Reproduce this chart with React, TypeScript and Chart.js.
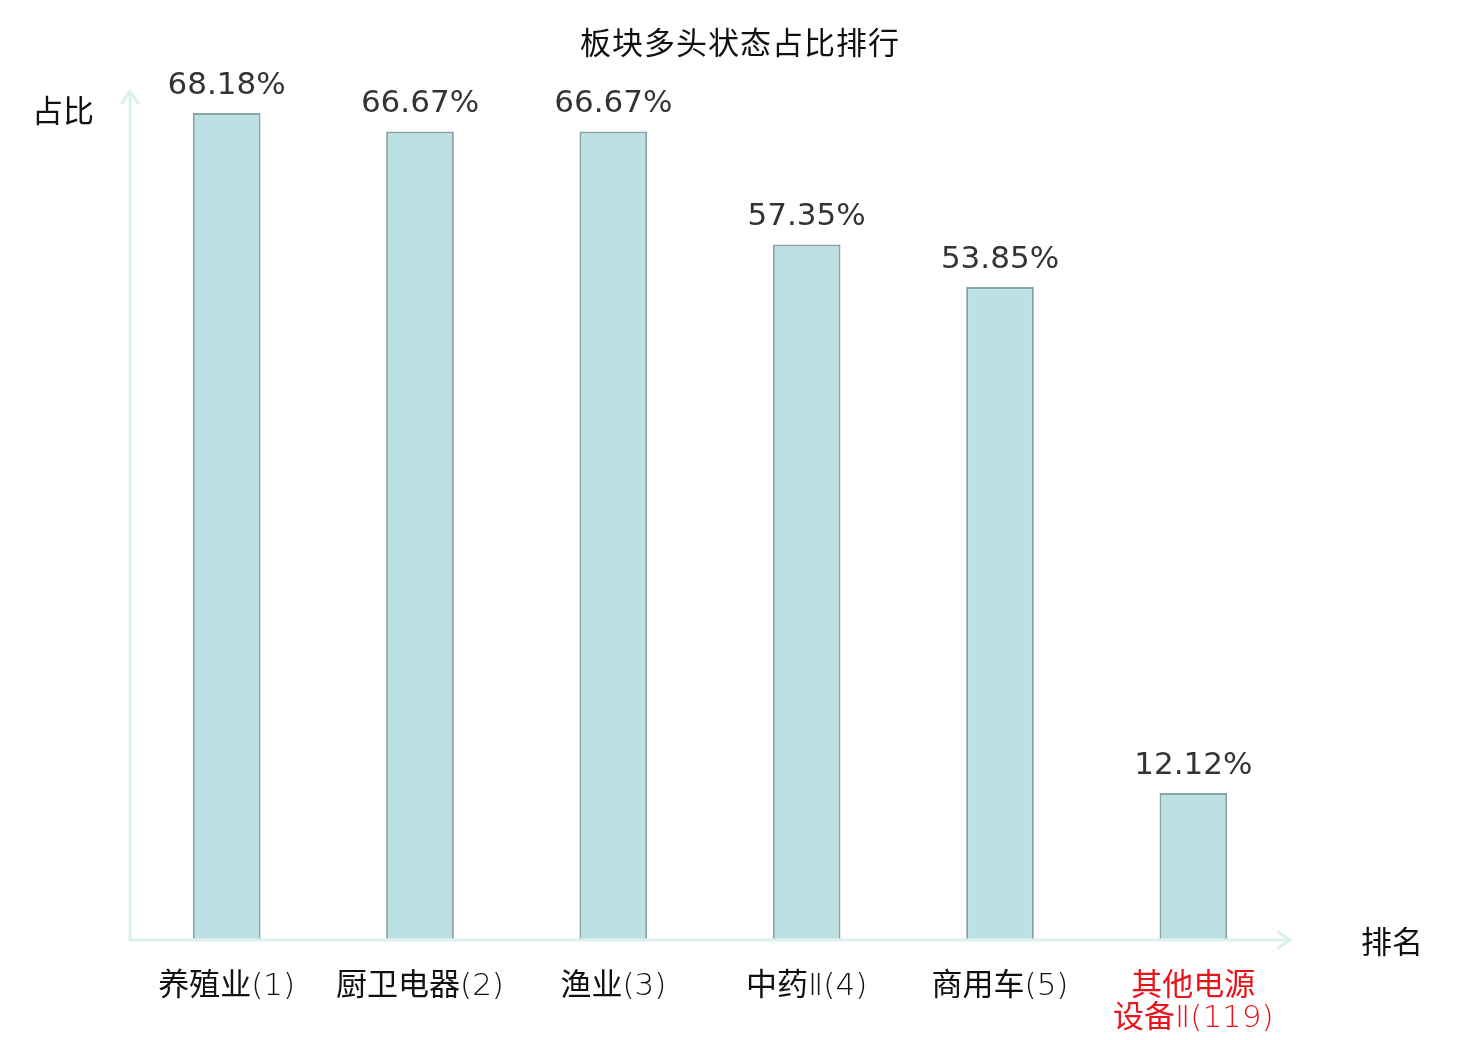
import { useEffect, useRef } from 'react'
import { Chart, registerables, Plugin } from 'chart.js'

Chart.register(...registerables)

const categories = ['养殖业(1)', '厨卫电器(2)', '渔业(3)', '中药Ⅱ(4)', '商用车(5)', '其他电源\n设备Ⅱ(119)']
const shares = [68.18, 66.67, 66.67, 57.35, 53.85, 12.12]
const highlighted = [false, false, false, false, false, true]

const TITLE = '板块多头状态占比排行'
const Y_NAME = '占比'
const X_NAME = '排名'

const CJK = '"Noto Sans CJK SC", "Noto Sans", sans-serif'
const NUM = '"DejaVu Sans", sans-serif'
const AXIS_COLOR = '#dcf1ee'

const CJK_FONT = `31px ${CJK}`
const LATIN_FONT = `200 31px "DejaVu Sans", ${CJK}`

// split a label into CJK / latin runs so the digits get the thin face
function runs(text: string) {
  const out: { t: string; cjk: boolean }[] = []
  for (const ch of text) {
    const cjk = /[\u3400-\u9fff]/.test(ch)
    const last = out[out.length - 1]
    if (last && last.cjk === cjk) last.t += ch
    else out.push({ t: ch, cjk })
  }
  return out
}

function drawMixed(ctx: CanvasRenderingContext2D, text: string, cx: number, y: number) {
  const parts = runs(text)
  let total = 0
  const widths = parts.map((p) => {
    ctx.font = p.cjk ? CJK_FONT : LATIN_FONT
    const w = ctx.measureText(p.t).width
    total += w
    return w
  })
  let x = cx - total / 2
  ctx.textAlign = 'left'
  parts.forEach((p, i) => {
    ctx.font = p.cjk ? CJK_FONT : LATIN_FONT
    ctx.fillText(p.t, x, y)
    x += widths[i]
  })
  ctx.textAlign = 'center'
}

// axes with arrows, value labels, category labels, titles
const decorPlugin: Plugin<'bar'> = {
  id: 'decor',
  afterDatasetsDraw(chart) {
    const { ctx, chartArea } = chart
    const x = chart.scales.x
    const meta = chart.getDatasetMeta(0)
    const left = chartArea.left
    const bottom = chartArea.bottom

    ctx.save()
    // axes
    ctx.strokeStyle = AXIS_COLOR
    ctx.lineWidth = 3
    ctx.lineCap = 'round'
    ctx.beginPath()
    ctx.moveTo(left, bottom)
    ctx.lineTo(left, chartArea.top)
    ctx.moveTo(left - 8, chartArea.top + 12)
    ctx.lineTo(left, chartArea.top)
    ctx.lineTo(left + 8, chartArea.top + 12)
    ctx.moveTo(left, bottom)
    ctx.lineTo(chartArea.right, bottom)
    ctx.moveTo(chartArea.right - 12, bottom - 8)
    ctx.lineTo(chartArea.right, bottom)
    ctx.lineTo(chartArea.right - 12, bottom + 8)
    ctx.stroke()

    // value labels
    ctx.fillStyle = '#333333'
    ctx.font = `31px ${NUM}`
    ctx.textAlign = 'center'
    ctx.textBaseline = 'alphabetic'
    meta.data.forEach((bar, i) => {
      ctx.fillText(`${shares[i].toFixed(2)}%`, bar.x, bar.y - 19)
    })

    // category labels
    categories.forEach((c, i) => {
      const cx = x.getPixelForValue(i)
      ctx.fillStyle = highlighted[i] ? '#e8141b' : '#111111'
      c.split('\n').forEach((line, k) => {
        drawMixed(ctx, line, cx, bottom + 55 + k * 32)
      })
    })

    // names and title
    ctx.textBaseline = 'middle'
    ctx.fillStyle = '#111111'
    ctx.font = `31px ${CJK}`
    ctx.fillText(Y_NAME, 63, 110)
    ctx.fillText(X_NAME, 1392, 941)
    ;(ctx as any).letterSpacing = '1px'
    ctx.fillText(TITLE, 740, 42)
    ctx.restore()
  },
}

export default function App() {
  const canvasRef = useRef<HTMLCanvasElement | null>(null)
  const chartRef = useRef<Chart | null>(null)

  useEffect(() => {
    document.body.style.margin = '0'
    chartRef.current?.destroy()
    const ctx = canvasRef.current?.getContext('2d')
    if (!ctx) return

    chartRef.current = new Chart(ctx, {
      type: 'bar',
      data: {
        labels: categories,
        datasets: [
          {
            data: shares,
            backgroundColor: '#bce0e3',
            borderColor: '#89a4a6',
            borderWidth: 2,
            categoryPercentage: 1,
            barPercentage: 0.35,
          },
        ],
      },
      options: {
        animation: false,
        responsive: true,
        maintainAspectRatio: false,
        layout: { padding: { left: 130, right: 190, top: 91, bottom: 100 } },
        scales: {
          x: { display: false },
          y: { display: false, min: 0, max: 70 },
        },
        plugins: {
          legend: { display: false },
          tooltip: { enabled: false },
        },
      },
      plugins: [decorPlugin],
    })

    return () => {
      chartRef.current?.destroy()
      chartRef.current = null
    }
  }, [])

  return (
    <div style={{ position: 'relative', width: 1480, height: 1040, background: '#fff' }}>
      <canvas ref={canvasRef} />
    </div>
  )
}
